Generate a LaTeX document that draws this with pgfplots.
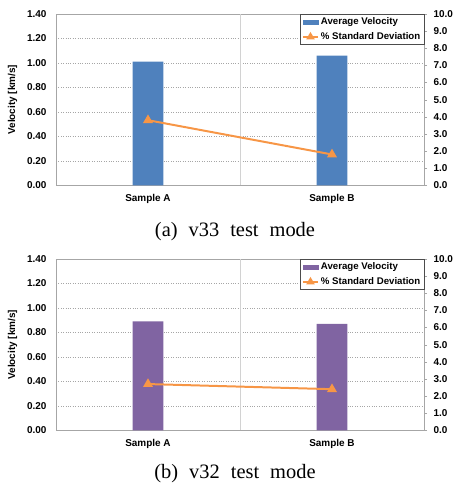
\documentclass[border=0pt]{standalone}
\usepackage{fontspec}
\setmainfont{Liberation Serif}
\setsansfont{Liberation Sans}
\usepackage{pgfplots}
\pgfplotsset{compat=1.18}
\definecolor{barblue}{HTML}{4F81BD}
\definecolor{barpurple}{HTML}{8064A2}
\definecolor{lineorange}{HTML}{F79646}
\definecolor{framegray}{HTML}{A6A6A6}
\pgfplotsset{
  common/.style={scale only axis, width=368bp, height=171.3bp, xmin=0, xmax=2,
    /pgf/number format/assume math mode=true,
    ticklabel style={font=\sffamily\bfseries\fontsize{10}{12}\selectfont},
  },
  leftax/.style={common, ymin=0, ymax=1.4,
    ytick={0,0.2,0.4,0.6,0.8,1.0,1.2,1.4},
    yticklabel style={/pgf/number format/fixed, /pgf/number format/fixed zerofill, /pgf/number format/precision=2, xshift=-6bp},
    xtick={0.5,1.5}, xticklabels={Sample A, Sample B}, xticklabel style={yshift=-5bp},
    major tick length=0pt,
    ymajorgrids, major grid style={gray!70, dotted},
    extra x ticks={1}, extra x tick labels={},
    extra x tick style={grid=major, major grid style={gray!35, solid}},
    axis line style={framegray},
    ylabel={Velocity [km/s]},
    ylabel style={at={(axis description cs:-0.118,0.5)}, anchor=center, rotate=0, font=\sffamily\bfseries\fontsize{10}{12}\selectfont},
  },
  rightax/.style={common, ymin=0, ymax=10, axis y line*=right, axis x line=none,
    ytick={0,1,2,3,4,5,6,7,8,9,10},
    yticklabel style={/pgf/number format/fixed, /pgf/number format/fixed zerofill, /pgf/number format/precision=1, xshift=3bp},
    tick align=outside, major tick length=3bp, tick style={framegray},
    y axis line style={framegray},
    legend style={at={(1,1)}, anchor=north east, draw=gray!60!black,
      font=\sffamily\bfseries\fontsize{9.7}{11}\selectfont, inner sep=1.5bp, row sep=2.5bp},
    legend cell align=left,
  },
}
\begin{document}
\begin{tikzpicture}
% ---------- (a) ----------
\begin{axis}[leftax, at={(0,0)}]
\addplot[ybar, bar width=0.168, fill=barblue, draw=none] coordinates {(0.5,1.01) (1.5,1.06)};
\end{axis}
\begin{axis}[rightax, at={(0,0)}]
\addlegendimage{legend image code/.code={\fill[barblue] (0bp,-2.2bp) rectangle (15bp,2.2bp);}}
\addlegendentry{Average Velocity}
\addplot[lineorange, line width=2pt, mark=triangle*, mark size=3.8pt,
  legend image code/.code={\draw[lineorange, line width=2pt] (0bp,0bp) -- (15bp,0bp); \fill[lineorange] (7.5bp,0bp) +(90:3bp) -- +(210:3bp) -- +(330:3bp) -- cycle;}]
  coordinates {(0.5,3.8) (1.5,1.8)};
\addlegendentry{\% Standard Deviation}
\end{axis}
\node[font=\fontsize{20.5}{24}\selectfont] at (179bp,-46bp) {(a)\hspace{11bp}v33\hspace{11bp}test\hspace{11bp}mode};
% ---------- (b) ----------
\begin{axis}[leftax, at={(0,-245bp)}]
\addplot[ybar, bar width=0.168, fill=barpurple, draw=none] coordinates {(0.5,0.89) (1.5,0.87)};
\end{axis}
\begin{axis}[rightax, at={(0,-245bp)}]
\addlegendimage{legend image code/.code={\fill[barpurple] (0bp,-2.2bp) rectangle (15bp,2.2bp);}}
\addlegendentry{Average Velocity}
\addplot[lineorange, line width=2pt, mark=triangle*, mark size=3.8pt,
  legend image code/.code={\draw[lineorange, line width=2pt] (0bp,0bp) -- (15bp,0bp); \fill[lineorange] (7.5bp,0bp) +(90:3bp) -- +(210:3bp) -- +(330:3bp) -- cycle;}]
  coordinates {(0.5,2.7) (1.5,2.4)};
\addlegendentry{\% Standard Deviation}
\end{axis}
\node[font=\fontsize{20.5}{24}\selectfont] at (179bp,-288bp) {(b)\hspace{11bp}v32\hspace{11bp}test\hspace{11bp}mode};
\pgfresetboundingbox
\path[use as bounding box] (-56bp,185.3bp) rectangle (399bp,-302.7bp);
\end{tikzpicture}
\end{document}
